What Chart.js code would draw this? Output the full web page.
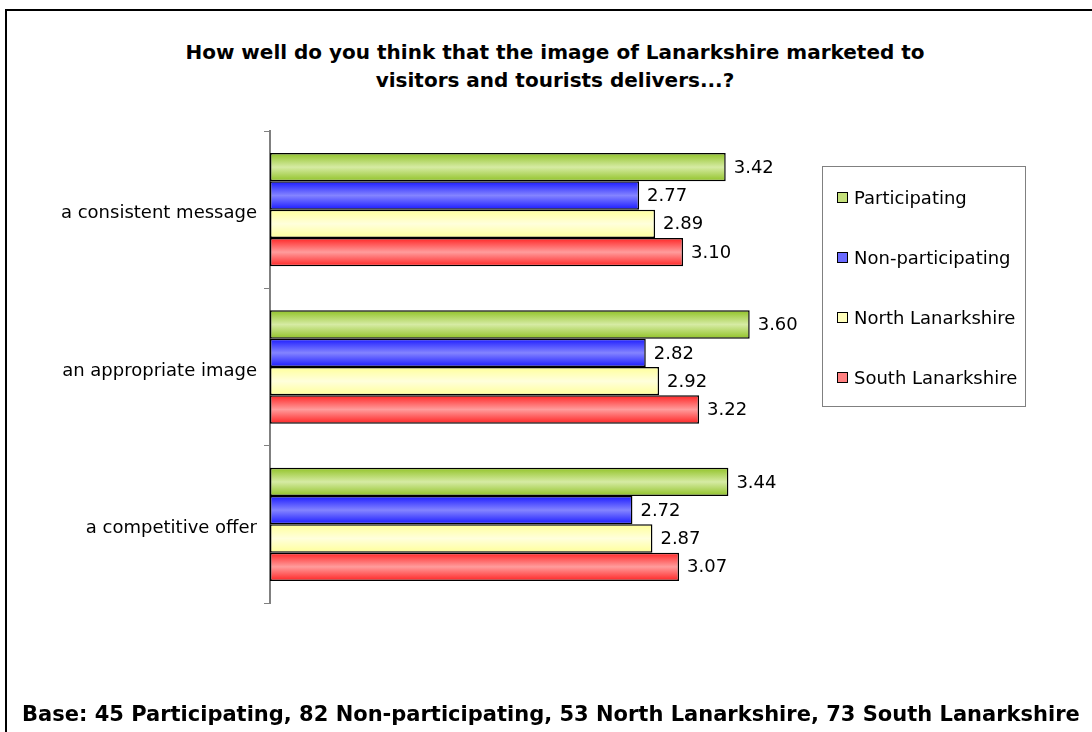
<!DOCTYPE html>
<html><head><meta charset="utf-8">
<script src="https://cdn.jsdelivr.net/npm/chart.js@4/dist/chart.umd.min.js"></script>
<style>
  html,body{margin:0;padding:0;background:#fff;overflow:hidden}
  body{width:1092px;height:732px;position:relative;font-family:"DejaVu Sans",Verdana,sans-serif;color:#000}
  #frame{position:absolute;left:5px;top:9px;width:1100px;height:740px;border:2px solid #000}
  #title{position:absolute;left:0;width:1110px;top:38px;text-align:center;font-weight:bold;font-size:20px;line-height:28px}
  #foot{position:absolute;left:22px;top:702px;font-weight:bold;font-size:21px;white-space:nowrap}
  #legend{position:absolute;left:822px;top:166px;width:204px;height:241px;border:1px solid #808080;box-sizing:border-box;font-size:18px}
  #legend div{position:absolute;left:14px;height:22px;line-height:22px;white-space:nowrap}
  #legend span{display:inline-block;width:9px;height:9px;border:1px solid #000;margin-right:6px;vertical-align:1px}
  canvas{position:absolute;left:0;top:0}
</style></head>
<body>
<div id="frame"></div>
<div id="title">How well do you think that the image of Lanarkshire marketed to<br>visitors and tourists delivers...?</div>
<canvas id="c" width="1092" height="732"></canvas>
<div id="legend"></div>
<div id="foot">Base: 45 Participating, 82 Non-participating, 53 North Lanarkshire, 73 South Lanarkshire</div>
<script>
const categories = ["a consistent message","an appropriate image","a competitive offer"];
const seriesNames = ["Participating","Non-participating","North Lanarkshire","South Lanarkshire"];
const participating = [3.42,3.60,3.44];
const nonParticipating = [2.77,2.82,2.72];
const northLanarkshire = [2.89,2.92,2.87];
const southLanarkshire = [3.10,3.22,3.07];
const edgeColors = ["#90c226","#1a1aff","#ffff99","#ff2424"];
const midColors  = ["#d6eba4","#8484ff","#ffffdc","#ff9c9c"];
const legendColors = ["#c4e07a","#6a6aff","#ffffbb","#ff8080"];

const values = [participating,nonParticipating,northLanarkshire,southLanarkshire];

// legend (html, boxed like the original)
const lg = document.getElementById("legend");
seriesNames.forEach((n,i)=>{
  lg.insertAdjacentHTML("beforeend",`<div style="top:${20+i*60}px"><span style="background:${legendColors[i]}"></span>${n}</div>`);
});

const gradBars = {
  id:"gradBars",
  beforeDatasetsDraw(chart){
    const ctx = chart.ctx;
    chart.data.datasets.forEach((ds,i)=>{
      chart.getDatasetMeta(i).data.forEach(el=>{
        const top = el.y - el.height/2, bot = el.y + el.height/2;
        const g = ctx.createLinearGradient(0,top,0,bot);
        g.addColorStop(0,edgeColors[i]);
        g.addColorStop(0.5,midColors[i]);
        g.addColorStop(1,edgeColors[i]);
        el.options.backgroundColor = g;
      });
    });
  },
  afterDatasetsDraw(chart){
    const ctx = chart.ctx;
    ctx.save();
    ctx.font = '18px "DejaVu Sans"';
    ctx.fillStyle = "#000";
    ctx.textBaseline = "middle";
    chart.data.datasets.forEach((ds,i)=>{
      chart.getDatasetMeta(i).data.forEach((el,j)=>{
        ctx.fillText(ds.data[j].toFixed(2), el.x + 8, el.y + 1);
      });
    });
    ctx.restore();
  }
};

new Chart(document.getElementById("c"),{
  type:"bar",
  data:{labels:categories,
    datasets:seriesNames.map((n,i)=>({label:n,data:values[i],
      backgroundColor:()=>edgeColors[i],
      borderColor:"#000",borderWidth:1.5,borderSkipped:false,
      categoryPercentage:0.72,barPercentage:1}))},
  options:{
    indexAxis:"y",responsive:false,animation:false,
    layout:{padding:{left:0,top:131,right:289,bottom:129}},
    plugins:{legend:{display:false},tooltip:{enabled:false}},
    scales:{
      x:{display:false,min:0,max:4},
      y:{
        afterFit:s=>{s.width=270;},
        grid:{display:true,drawOnChartArea:false,drawTicks:true,tickLength:6,color:"#808080",offset:true},
        border:{display:true,color:"#808080",width:2},
        ticks:{color:"#000",font:{family:"DejaVu Sans",size:18},padding:7,labelOffset:4}
      }
    }
  },
  plugins:[gradBars]
});
</script>
</body></html>
